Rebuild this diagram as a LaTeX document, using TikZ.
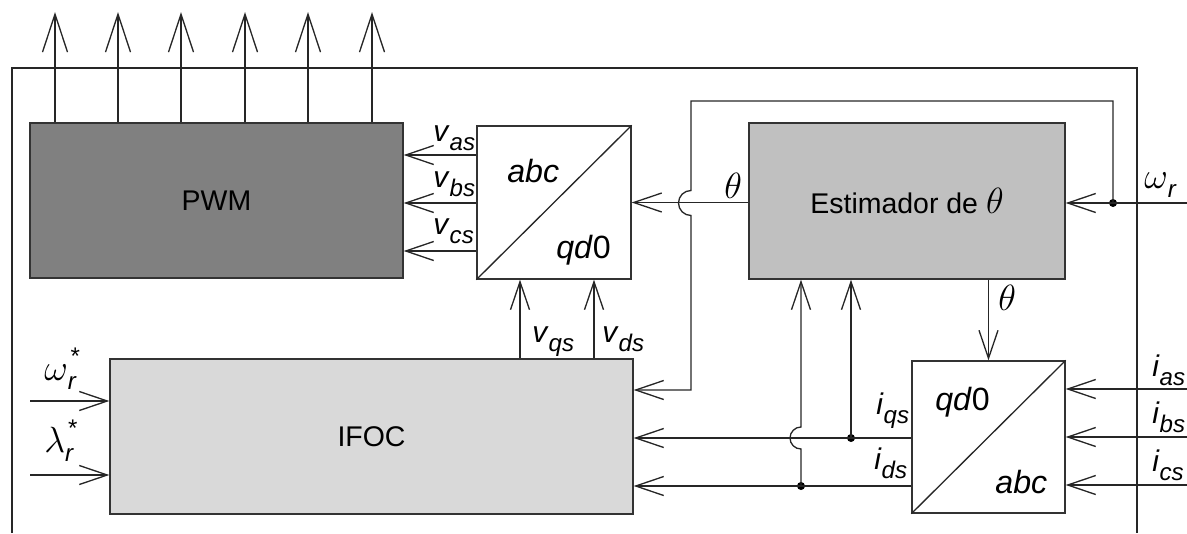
\documentclass[tikz,border=0pt]{standalone}
\usepackage{fontspec}
\setmainfont{Liberation Sans}
\usetikzlibrary{arrows.meta, positioning, calc}

\definecolor{pwmgray}{RGB}{128,128,128}
\definecolor{estgray}{RGB}{192,192,192}
\definecolor{ifocgray}{RGB}{217,217,217}

\newcommand{\subfont}{\fontsize{13.7}{15}\selectfont}
\newcommand{\grk}[1]{{\fontsize{19.5}{22}\selectfont$#1$}}
\newcommand{\sigsub}[2]{\textit{#1}\raisebox{-0.6ex}{\subfont\textit{#2}}}
\newcommand{\refsig}[1]{\grk{#1}\raisebox{-0.6ex}{\subfont\textit{r}}\hspace{-0.2em}\raisebox{9pt}{\subfont *}}

\tikzset{
  blockbox/.style={
    rectangle, draw=black!80, line width=0.75pt, inner sep=0pt,
    font=\fontsize{16.2}{19}\selectfont
  },
  pwmbox/.style={blockbox, fill=pwmgray},
  estbox/.style={blockbox, fill=estgray},
  ifocbox/.style={blockbox, fill=ifocgray},
  transbox/.style={rectangle, draw=black!80, line width=0.75pt, inner sep=0pt, fill=white},
  translabel/.style={anchor=base west, inner sep=0pt, font=\fontsize{18.3}{21}\selectfont},
  siglabel/.style={anchor=base west, inner sep=0pt, font=\fontsize{17}{20}\selectfont},
  sigarr/.style={-{Straight Barb[length=5.6mm, width=3.8mm]}, line width=0.75pt, black!85},
  outarr/.style={-{Straight Barb[length=7.6mm, width=5mm]}, line width=0.75pt, black!85},
  wire/.style={line width=0.75pt, black!85},
  junct/.style={circle, fill=black, inner sep=0pt, minimum size=1.6mm}
}

\begin{document}
\begin{tikzpicture}[x=0.2mm, y=-0.2mm]
  \useasboundingbox (0,0) rectangle (1187,533);

  % outer frame
  \draw[wire] (12,533) |- (1137,68) -- (1137,533);

  % blocks
  \node[pwmbox, minimum width=373*0.2mm, minimum height=155*0.2mm] (pwm) at (216.5,200.5) {PWM};
  \node[estbox, minimum width=316*0.2mm, minimum height=156*0.2mm] (est) at (907,201) {Estimador de \grk{\theta}};
  \node[ifocbox, minimum width=523*0.2mm, minimum height=155*0.2mm] (ifoc) at (371.5,436.5) {IFOC};

  % transformation blocks
  \node[transbox, minimum width=154*0.2mm, minimum height=153*0.2mm] (abc1) at (554,202.5) {};
  \draw[wire] (abc1.south west) -- (abc1.north east);
  \node[translabel] (abc1t) at (507,182) {\textit{abc}};
  \node[translabel] (abc1b) at (556,258) {\textit{qd}0};

  \node[transbox, minimum width=153*0.2mm, minimum height=152*0.2mm] (qd) at (988.5,437) {};
  \draw[wire] (qd.south west) -- (qd.north east);
  \node[translabel] (qdt) at (935,410) {\textit{qd}0};
  \node[translabel] (qdb) at (995,493) {\textit{abc}};

  % junctions
  \coordinate (jw) at (1113,203);
  \coordinate (jq) at (851,438);
  \coordinate (jd) at (801,486);
  \node[junct] at (jw) {};
  \node[junct] at (jq) {};
  \node[junct] at (jd) {};

  % PWM outputs
  \foreach \x in {55,118,181,245,308,372}
    \draw[outarr] (pwm.north -| \x,0) -- (\x,12);

  % phase voltages
  \foreach \y in {155,203,251}
    \draw[sigarr] (abc1.west |- 0,\y) -- (pwm.east |- 0,\y);
  \node[siglabel] (vas) at (433,141) {\sigsub{v}{as}};
  \node[siglabel] (vbs) at (433,187) {\sigsub{v}{bs}};
  \node[siglabel] (vcs) at (433,234) {\sigsub{v}{cs}};

  % dq voltages
  \draw[sigarr] (ifoc.north -| 520,0) -- (abc1.south -| 520,0);
  \draw[sigarr] (ifoc.north -| 594,0) -- (abc1.south -| 594,0);
  \node[siglabel] (vqs) at (532,342) {\sigsub{v}{qs}};
  \node[siglabel] (vds) at (602,342) {\sigsub{v}{ds}};

  % angle
  \draw[sigarr] (est.west |- abc1.east) -- (abc1.east);
  \node[siglabel] (th1) at (724,198) {\grk{\theta}};
  \draw[sigarr] (est.south -| qd.north) -- (qd.north);
  \node[siglabel] (th2) at (998,310) {\grk{\theta}};

  % speed
  \coordinate (wr) at (1187,203);
  \draw[sigarr] (wr) -- (est.east |- wr);
  \node[siglabel] (wrl) at (1144,188) {\grk{\omega}\raisebox{-0.6ex}{\subfont\textit{r}}};
  \draw[sigarr] (jw) |- (691,101) -- (691,190.5)
    arc[start angle=90, end angle=270, radius=2.5mm] -- (691,390) -- (ifoc.east |- 0,390);

  % references
  \draw[sigarr] (30,401) -- (ifoc.west |- 0,401);
  \draw[sigarr] (30,475) -- (ifoc.west |- 0,475);
  \node[siglabel] (wref) at (44,380) {\refsig{\omega}};
  \node[siglabel] (lref) at (44,452) {\refsig{\lambda}};

  % phase currents
  \foreach \y in {389,437,485}
    \draw[sigarr] (1187,\y) -- (qd.east |- 0,\y);
  \node[siglabel] (ias) at (1152,376) {\sigsub{i}{as}};
  \node[siglabel] (ibs) at (1152,423) {\sigsub{i}{bs}};
  \node[siglabel] (ics) at (1152,471) {\sigsub{i}{cs}};

  % dq currents
  \draw[sigarr] (qd.west |- jq) -- (ifoc.east |- jq);
  \draw[sigarr] (qd.west |- jd) -- (ifoc.east |- jd);
  \node[siglabel] (iqs) at (876,414) {\sigsub{i}{qs}};
  \node[siglabel] (ids) at (874,469) {\sigsub{i}{ds}};
  \draw[sigarr] (jq) -- (est.south -| jq);
  \draw[sigarr] (jd) -- (801,449)
    arc[start angle=270, end angle=90, radius=2.2mm] -- (est.south -| jd);

\end{tikzpicture}
\end{document}
